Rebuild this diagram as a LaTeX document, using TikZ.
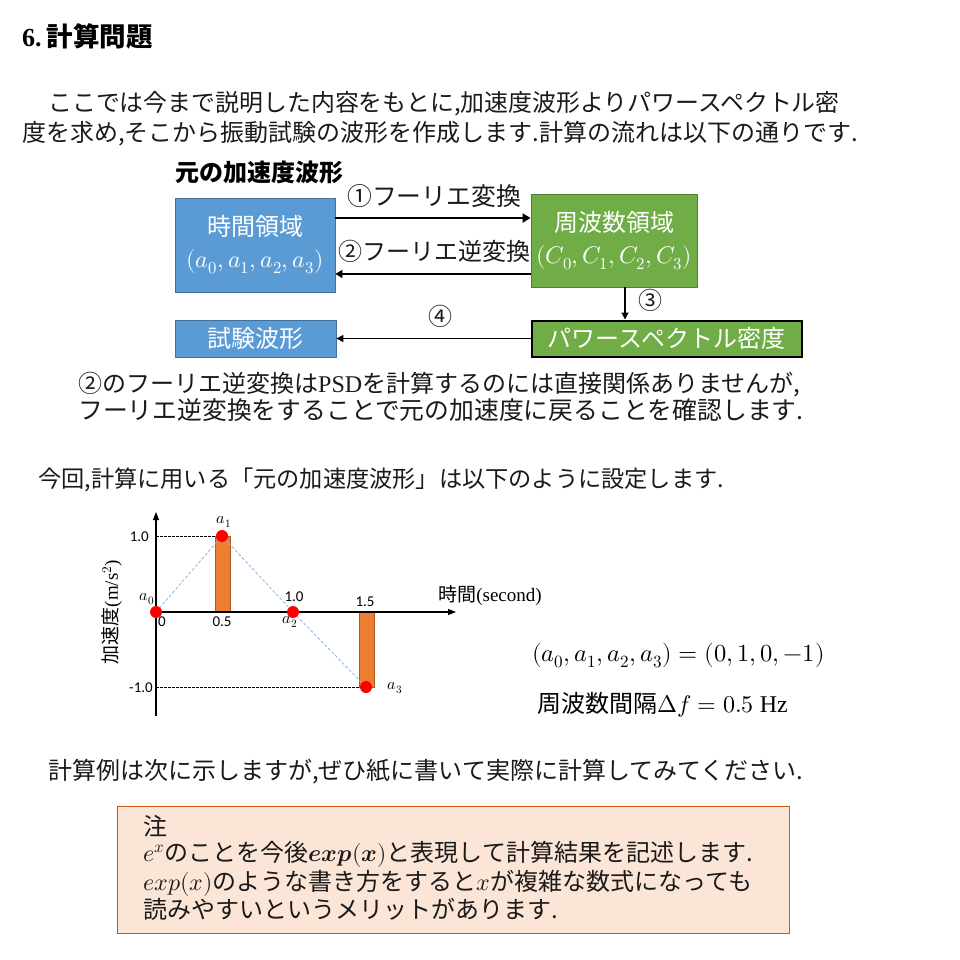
\documentclass[tikz,border=0pt]{standalone}
\usepackage{fontspec}
\usepackage{unicode-math}
\setmainfont{Liberation Serif}
\setmathfont{Latin Modern Math}
\newfontfamily\jp{Noto Sans CJK JP}
\newfontfamily\calfont{Carlito}
\usetikzlibrary{arrows.meta}
\definecolor{boxblue}{HTML}{5B9BD5}
\definecolor{boxblueline}{HTML}{41719C}
\definecolor{boxgreen}{HTML}{70AD47}
\definecolor{boxgreenline}{HTML}{507E32}
\definecolor{barorange}{HTML}{ED7D31}
\definecolor{barline}{HTML}{AE5A21}
\definecolor{notefill}{HTML}{FBE5D6}
\definecolor{noteline}{HTML}{C55A11}
\definecolor{lightblue}{HTML}{8FB4DC}
\definecolor{txtgray}{HTML}{1A1A1A}
\tikzset{
  txt/.style={anchor=base west, inner sep=0pt, text=txtgray, font=\jp\fontsize{24}{29}\selectfont},
  txtc/.style={anchor=base, inner sep=0pt, text=txtgray, font=\jp\fontsize{24}{29}\selectfont},
  bluebox/.style={draw=boxblueline, fill=boxblue, line width=0.8pt, inner sep=0pt, text=white, align=center, font=\jp\fontsize{24}{32}\selectfont},
  greenbox/.style={draw=boxgreenline, fill=boxgreen, line width=0.8pt, inner sep=0pt, text=white, align=center, font=\jp\fontsize{24}{32}\selectfont},
  arrA/.style={line width=2.6pt, -{Triangle[length=8pt,width=9pt]}},
  arrB/.style={line width=1.8pt, -{Triangle[length=7pt,width=8pt]}},
  arrC/.style={line width=1.2pt, -{Triangle[length=7pt,width=7pt]}},
  small/.style={inner sep=0pt, font=\calfont\fontsize{15}{17}\selectfont},
  sub/.style={inner sep=0pt, font=\fontsize{16}{18}\selectfont},
  axis/.style={line width=1.1pt, -{Triangle[length=8pt,width=6pt]}},
  dot/.style={circle, fill=red, inner sep=0pt, minimum size=12pt},
  bar/.style={fill=barorange, draw=barline, line width=0.6pt},
  guide/.style={dashed, line width=0.6pt, dash pattern=on 2.5pt off 1.5pt},
  bluedash/.style={dashed, draw=lightblue, line width=0.8pt, dash pattern=on 3pt off 2pt},
}
\begin{document}
\begin{tikzpicture}[x=1pt,y=-1pt]
\fill[white] (0,0) rectangle (960,960);
\useasboundingbox (0,0) rectangle (960,960);

% title
\node[anchor=base west, inner sep=0pt] (title) at (22,47) {{\rmfamily\bfseries\fontsize{26}{30}\selectfont 6.}\hspace{5pt}{\jp\bfseries\fontsize{26.5}{30}\selectfont 計算問題}};

% intro paragraph
\node[txt, font=\jp\fontsize{23.9}{28}\selectfont] (p1) at (48,112) {ここでは今まで説明した内容をもとに,加速度波形よりパワースペクトル密};
\node[txt, font=\jp\fontsize{24}{28}\selectfont] (p2) at (22,142) {度を求め,そこから振動試験の波形を作成します.計算の流れは以下の通りです.};

% flow diagram
\node[anchor=base west, inner sep=0pt, font=\jp\bfseries\fontsize{24}{29}\selectfont] (orig) at (175,182) {元の加速度波形};

\node[bluebox, minimum width=160pt, minimum height=94pt] (time) at (255,245) {時間領域\\$(a_0,a_1,a_2,a_3)$};
\node[greenbox, minimum width=166pt, minimum height=93pt] (freq) at (614,240.5) {周波数領域\\$(C_0,C_1,C_2,C_3)$};
\node[bluebox, minimum width=161pt, minimum height=37pt] (test) at (255.5,338.5) {試験波形};
\node[greenbox, draw=black, line width=2pt, minimum width=270pt, minimum height=36pt] (psd) at (666.5,338.5) {パワースペクトル密度};

\draw[arrA] ([yshift=27pt]time.east) -- ([yshift=27pt]time.east -| freq.west);
\draw[arrB] ([yshift=-29pt]time.east -| freq.west) -- ([yshift=-29pt]time.east);
\draw[arrC] ([xshift=11pt]freq.south) -- ([xshift=11pt]freq.south |- psd.north);
\draw[arrC] (psd.west) -- (test.east);

\node[txtc, font=\jp\fontsize{24.8}{29}\selectfont] (l1) at (434,205) {①フーリエ変換};
\node[txtc] (l2) at (434,260) {②フーリエ逆変換};
\node[txtc] (l3) at (650,309) {③};
\node[txtc] (l4) at (440,325) {④};

% note under diagram
\node[txt, font=\jp\fontsize{24}{29}\selectfont] (n1) at (78,392) {②のフーリエ逆変換は{\rmfamily PSD}を計算するのには直接関係ありませんが,};
\node[txt, font=\jp\fontsize{24.8}{29}\selectfont] (n2) at (78,419) {フーリエ逆変換をすることで元の加速度に戻ることを確認します.};

\node[txt, font=\jp\fontsize{23.2}{29}\selectfont] (n3) at (38,487) {今回,計算に用いる「元の加速度波形」は以下のように設定します.};

% chart
\coordinate (o) at (156,612);
\coordinate (ytop) at (156,512);
\coordinate (ybot) at (156,716);
\coordinate (xend) at (456,612);
\coordinate (q0) at (156,612);
\coordinate (q1) at (222,536);
\coordinate (q2) at (293,612);
\coordinate (q3) at (366,687);

\draw[bar] (215,536) rectangle (230,612);
\draw[bar] (359,612) rectangle (374,687);
\draw[guide] (156,536) -- (q1);
\draw[guide] (156,687) -- (q3);
\draw[bluedash] (q0) -- (q1) -- (q2) -- (q3);
\draw[axis] (ybot) -- (ytop);
\draw[axis] (o) -- (xend);
\node[dot] (d0) at (q0) {};
\node[dot] (d1) at (q1) {};
\node[dot] (d2) at (q2) {};
\node[dot] (d3) at (q3) {};

\node[small, anchor=east] (t1) at (149,537) {1.0};
\node[small, anchor=east] (tm1) at (153,688) {-1.0};
\node[small] (t0) at (162,622) {0};
\node[small] (t05) at (222,622) {0.5};
\node[small] (t10) at (294,597) {1.0};
\node[small] (t15) at (365,602) {1.5};
\node[sub] (a0) at (147,599) {$a_0$};
\node[sub] (a1) at (224,522) {$a_1$};
\node[sub] (a2) at (290,622) {$a_2$};
\node[sub] (a3) at (395,688) {$a_3$};
\node[inner sep=0pt, font=\fontsize{19}{22}\selectfont] (xl) at (490,596) {{\jp 時間}(second)};
\node[inner sep=0pt, rotate=90, font=\fontsize{19}{22}\selectfont] (yl) at (112,612) {{\jp 加速度}(m/s$^2$)};

% right formulas
\node[anchor=base west, inner sep=0pt, font=\fontsize{24.5}{29}\selectfont] (f1) at (532,661) {$(a_0,a_1,a_2,a_3)=(0,1,0,-1)$};
\node[anchor=base west, inner sep=0pt, font=\fontsize{24}{29}\selectfont] (f2) at (537,712) {{\jp 周波数間隔}$\Delta f=0.5\ \mathrm{Hz}$};

\node[txt, font=\jp\fontsize{24}{29}\selectfont] (n4) at (48,779) {計算例は次に示しますが,ぜひ紙に書いて実際に計算してみてください.};

% note box
\node[draw=noteline, fill=notefill, line width=1pt, minimum width=672pt, minimum height=127pt, inner sep=0pt] (note) at (453,869.5) {};
\node[txt] (m0) at (143,835) {注};
\node[txt] (m1) at (143,861) {$e^x$のことを今後$\symbfit{exp}\mathbf{(}\symbfit{x}\mathbf{)}$と表現して計算結果を記述します.};
\node[txt] (m2) at (143,890) {$exp(x)$のような書き方をすると$x$が複雑な数式になっても};
\node[txt] (m3) at (143,918) {読みやすいというメリットがあります.};
\end{tikzpicture}
\end{document}
